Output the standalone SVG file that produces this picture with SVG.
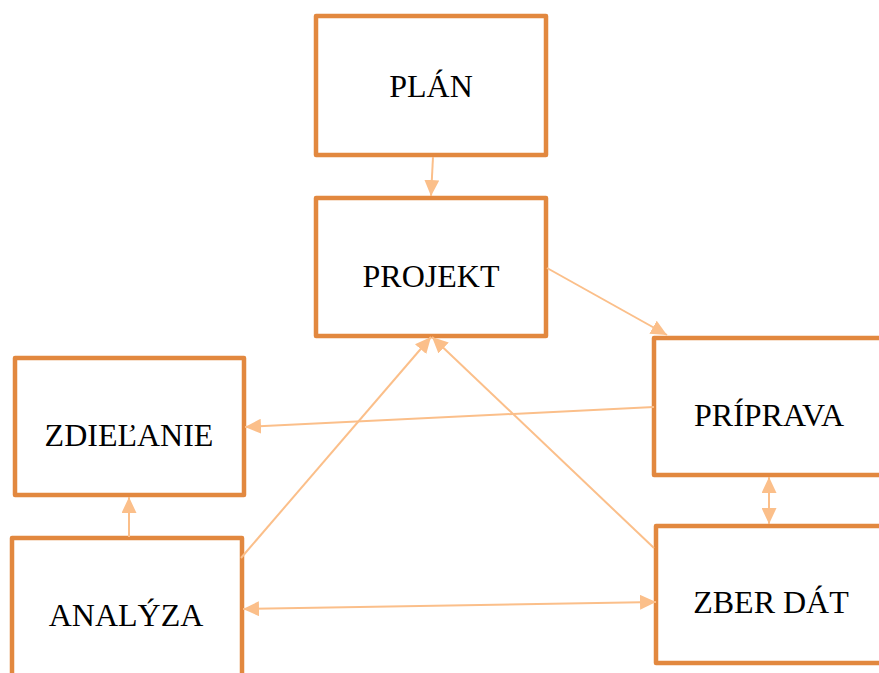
<svg xmlns="http://www.w3.org/2000/svg" width="879" height="673" viewBox="0 0 879 673">
<style>
.box{fill:#fff;stroke:#E2883F;stroke-width:4.5;stroke-linejoin:round}
.lbl{font-family:"Liberation Serif","Times New Roman",serif;font-size:32px;fill:#000;text-anchor:middle}
.con{stroke:#FBBF8A;stroke-width:2;fill:none}
</style>
<defs>
<marker id="ah" markerUnits="userSpaceOnUse" markerWidth="16" markerHeight="15" refX="16" refY="7.5" orient="auto-start-reverse" viewBox="0 0 16 15">
<path d="M0,0 L16,7.5 L0,15 z" fill="#FBBF8A"/>
</marker>
</defs>
<rect width="879" height="673" fill="#fff"/>
<g id="plan"><rect class="box" x="316" y="16" width="230" height="139"/><text class="lbl" x="431" y="97">PLÁN</text></g>
<g id="projekt"><rect class="box" x="316" y="198" width="230" height="138"/><text class="lbl" x="431" y="287">PROJEKT</text></g>
<g id="zdielanie"><rect class="box" x="15" y="358" width="229" height="137"/><text class="lbl" x="129" y="446">ZDIEĽANIE</text></g>
<g id="priprava"><rect class="box" x="654" y="338" width="240" height="137"/><text class="lbl" x="769" y="426">PRÍPRAVA</text></g>
<g id="analyza"><rect class="box" x="12" y="538" width="230" height="150"/><text class="lbl" x="126" y="626">ANALÝZA</text></g>
<g id="zberdat"><rect class="box" x="656" y="526" width="240" height="137"/><text class="lbl" x="771" y="613">ZBER DÁT</text></g>
<g id="connectors">
<line class="con" x1="433" y1="157" x2="431" y2="196" marker-end="url(#ah)"/>
<line class="con" x1="547" y1="268" x2="667" y2="335" marker-end="url(#ah)"/>
<line class="con" x1="654" y1="407" x2="245" y2="427" marker-end="url(#ah)"/>
<line class="con" x1="129" y1="537" x2="129" y2="497" marker-end="url(#ah)"/>
<line class="con" x1="769" y1="477" x2="769" y2="524" marker-start="url(#ah)" marker-end="url(#ah)"/>
<line class="con" x1="243" y1="609" x2="656" y2="602" marker-start="url(#ah)" marker-end="url(#ah)"/>
<line class="con" x1="241" y1="558" x2="431" y2="337" marker-end="url(#ah)"/>
<line class="con" x1="654" y1="548" x2="432" y2="337" marker-end="url(#ah)"/>
</g>
</svg>
